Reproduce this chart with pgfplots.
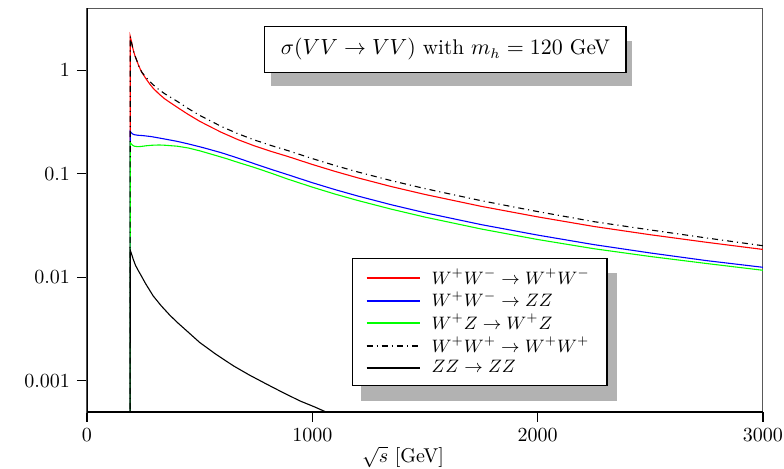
\documentclass[border=0pt]{standalone}
\usepackage{pgfplots}
\pgfplotsset{compat=1.18}
\usetikzlibrary{shadows}
\pgfdeclarelayer{background}
\pgfsetlayers{background,main}

\begin{document}
\begin{tikzpicture}
\useasboundingbox (-43.5pt,-28pt) rectangle (348.5pt,206pt);
\begin{axis}[
  width=338pt, height=202pt, scale only axis,
  xmin=0, xmax=3000, ymode=log, ymin=0.0005, ymax=4,
  xtick={0,1000,2000,3000},
  ytick={0.001,0.01,0.1,1},
  yticklabels={0.001,0.01,0.1,1},
  minor tick num=0, yminorticks=false,
  tick align=outside, tick pos=left, major tick length=5pt,
  scaled x ticks=false,
  xticklabel style={/pgf/number format/1000 sep={}},
  axis line style={black!65, line width=0.5pt},
  tick style={black, line width=0.6pt},
  xlabel={$\sqrt{s}$ [GeV]},
  x label style={at={(ticklabel cs:0.4675)}, yshift=4.5pt},
  clip=true,
  legend cell align=left,
  legend style={name=leg, at={(rel axis cs:0.392,0.381)}, anchor=north west,
    draw=black, line width=0.6pt, fill=white, inner xsep=6.5pt, inner ysep=3pt,
    row sep=-1.75pt, column sep=3.5pt,
    font=\fontsize{9.2}{11}\selectfont},
  legend image code/.code={\draw[#1, line width=1pt] (0cm,0cm) -- (0.93cm,0cm);},
  every axis plot/.append style={line width=0.55pt},
]
% W+W- -> W+W-
\addplot[red] coordinates {
 (191,1e-4) (192,2.12) (196,1.95) (201,1.72) (207,1.52) (213,1.38) (220,1.26)
 (230,1.10) (243,0.96) (260,0.84) (278,0.74) (294,0.67) (320,0.59) (345,0.53)
 (368,0.49) (400,0.44) (445,0.38) (500,0.322) (550,0.283) (596,0.252)
 (670,0.214) (744,0.186) (820,0.164) (892,0.147) (1000,0.1232) (1100,0.1057)
 (1200,0.0917) (1350,0.0754) (1500,0.0632) (1750,0.0485) (2000,0.0384)
 (2250,0.0310) (2500,0.0258) (2750,0.0218) (3000,0.0186)};
\addlegendentry{$W^+W^-\rightarrow W^+W^-$}
% W+W- -> ZZ
\addplot[blue] coordinates {
 (191,1e-4) (192,0.257) (196,0.250) (202,0.243) (210,0.239) (225,0.236)
 (249,0.234) (285,0.229) (320,0.222) (345,0.217) (400,0.206) (448,0.195)
 (520,0.178) (596,0.160) (670,0.142) (744,0.125) (820,0.110) (892,0.098)
 (1000,0.0821) (1100,0.0705) (1200,0.0612) (1350,0.0503) (1500,0.0421)
 (1750,0.0323) (2000,0.0256) (2250,0.0207) (2500,0.0172) (2750,0.0145)
 (3000,0.0125)};
\addlegendentry{$W^+W^-\rightarrow ZZ$}
% W+Z -> W+Z
\addplot[green] coordinates {
 (191,1e-4) (192,0.201) (196,0.195) (202,0.189) (210,0.185) (225,0.183)
 (241,0.184) (265,0.187) (290,0.189) (320,0.190) (345,0.189) (400,0.185)
 (448,0.178) (500,0.167) (560,0.153) (620,0.140) (670,0.129) (744,0.115)
 (820,0.101) (892,0.0888) (1000,0.0744) (1100,0.0638) (1200,0.0554)
 (1350,0.0456) (1500,0.0382) (1750,0.0293) (2000,0.0232) (2250,0.0189)
 (2500,0.0159) (2750,0.0136) (3000,0.0117)};
\addlegendentry{$W^+Z\rightarrow W^+Z$}
% W+W+ -> W+W+
\addplot[black, dashdotted] coordinates {
 (191,1e-4) (192,2.12) (196,1.95) (201,1.72) (207,1.52) (213,1.38) (220,1.26)
 (230,1.10) (243,0.96) (260,0.865) (278,0.784) (294,0.724) (320,0.649)
 (345,0.594) (368,0.554) (400,0.502) (445,0.433) (500,0.367) (550,0.323)
 (596,0.287) (670,0.244) (744,0.212) (820,0.187) (892,0.1676) (1000,0.1404)
 (1100,0.1205) (1200,0.1045) (1350,0.0860) (1500,0.0720) (1750,0.0550)
 (2000,0.0432) (2250,0.0345) (2500,0.0287) (2750,0.0240) (3000,0.0202)};
\addlegendentry{$W^+W^+\rightarrow W^+W^+$}
% ZZ -> ZZ
\addplot[black] coordinates {
 (191,1e-5) (192,0.0183) (197,0.0170) (205,0.0150) (215,0.0131) (225,0.0119)
 (235,0.0109) (260,0.0087) (294,0.0066) (330,0.00529) (368,0.0043)
 (405,0.0036) (442,0.00305) (500,0.00235) (570,0.00182) (649,0.0014)
 (720,0.00114) (797,0.00093) (870,0.00077) (945,0.00064) (1010,0.00056)
 (1070,0.00049) (1150,0.00042)};
\addlegendentry{$ZZ\rightarrow ZZ$}

\draw[black, line width=0.8pt] (rel axis cs:0,1) -- (rel axis cs:0,0) -- (rel axis cs:1,0);
\node[draw=black, line width=0.6pt, fill=white, inner xsep=8pt, inner ysep=6pt,
  font=\fontsize{10.6}{12}\selectfont,
  drop shadow={shadow xshift=3pt, shadow yshift=-7pt, fill=black!30, opacity=1}]
  at (rel axis cs:0.5303,0.8973) {$\sigma(VV\rightarrow VV)$ with $m_h = 120$ GeV};
\end{axis}
% shadow behind the legend box
\begin{pgfonlayer}{background}
  \fill[black!30] ([xshift=4.5pt,yshift=-7.5pt]leg.south west)
    rectangle ([xshift=4.5pt,yshift=-7.5pt]leg.north east);
\end{pgfonlayer}
\end{tikzpicture}
\end{document}
